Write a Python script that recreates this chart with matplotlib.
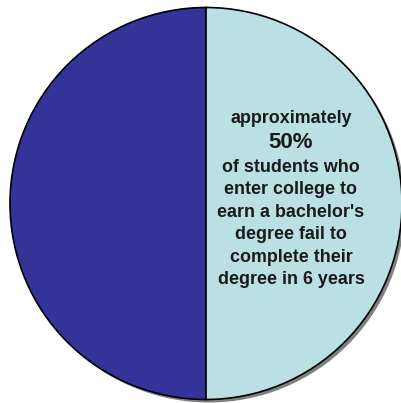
import matplotlib
matplotlib.use("Agg")
import matplotlib.pyplot as plt

# share of students: fail to finish in 6 years vs. the rest
values = [50, 50]
colors = ["#333399", "#BAE0E3"]

lines = ["approximately", "50%", "of students who", "enter college to",
         "earn a bachelor's", "degree fail to", "complete their",
         "degree in 6 years"]

plt.rcParams['font.family'] = ['Liberation Sans', 'DejaVu Sans']

fig = plt.figure(figsize=(4.02, 4.03), dpi=100)
ax = fig.add_axes([0, 0, 1, 1])

cx, cy, r = 206, 203.5, 196

# drop shadow
ax.pie(values, colors=["#808080", "#808080"], startangle=90, counterclock=True,
       center=(cx + 3, cy + 3), radius=r,
       wedgeprops=dict(linewidth=0))
# the pie itself
ax.pie(values, colors=colors, startangle=90, counterclock=True,
       center=(cx, cy), radius=r,
       wedgeprops=dict(edgecolor="black", linewidth=1.2))

ax.set_xlim(0, 402)
ax.set_ylim(403, 0)
ax.set_aspect("equal")
ax.axis("off")

baselines = [122.7, 148, 171.7, 194.2, 216.7, 239.2, 261.7, 284.2]
for txt, yb in zip(lines, baselines):
    size = 16 if txt == "50%" else 12.9
    ax.text(291, yb, txt, ha="center", va="baseline", fontsize=size,
            fontweight="bold", color="#1a1a1a")

fig.savefig("out.png", dpi=100)
